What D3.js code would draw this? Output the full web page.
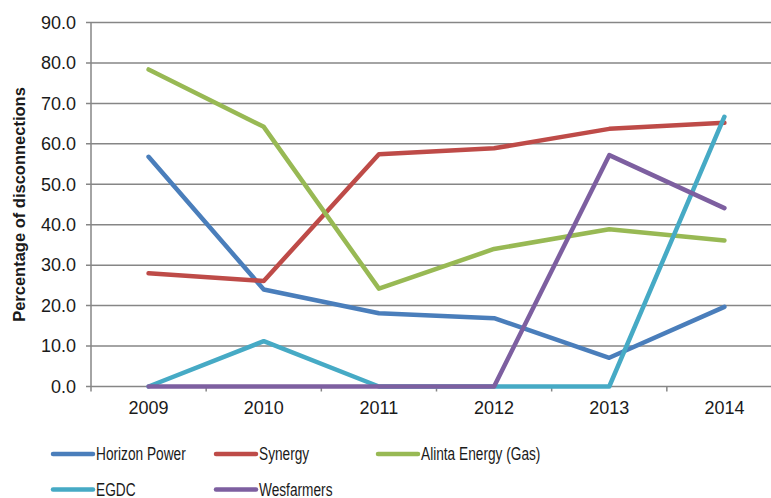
<!DOCTYPE html>
<html>
<head>
<meta charset="utf-8">
<script src="https://cdn.jsdelivr.net/npm/d3@7"></script>
<style>
  body { margin: 0; background: #fff; }
  svg { display: block; font-family: "Liberation Sans", Arial, sans-serif; }
</style>
</head>
<body>
<svg width="771" height="498"></svg>
<script>
// chart data
const years = ['2009', '2010', '2011', '2012', '2013', '2014'];
const seriesNames = ['Horizon Power', 'Synergy', 'Alinta Energy (Gas)', 'EGDC', 'Wesfarmers'];
const horizonPower = [56.8, 24.0, 18.1, 16.9, 7.1, 19.7];
const synergy = [28.0, 26.1, 57.4, 58.9, 63.7, 65.2];
const alintaGas = [78.4, 64.2, 24.2, 34.0, 38.9, 36.1];
const egdc = [0, 11.2, 0, 0, 0, 66.7];
const wesfarmers = [0, 0, 0, 0, 57.2, 44.1];
const yTicks = [0, 10, 20, 30, 40, 50, 60, 70, 80, 90];
const colors = ['#4a7ebb', '#be4b48', '#98b954', '#46aac5', '#7d5fa0'];

const allSeries = [horizonPower, synergy, alintaGas, egdc, wesfarmers];

let svg = d3.select('svg');
let plotLeft = 91, plotRight = 782, plotTop = 22.5, plotBottom = 386.5;

let x = d3.scaleBand().domain(years).range([plotLeft, plotRight]);
let y = d3.scaleLinear().domain([0, 90]).range([plotBottom, plotTop]);

// horizontal gridlines
svg.append('g')
  .selectAll('line')
  .data(yTicks)
  .enter().append('line')
  .attr('x1', plotLeft - 5)
  .attr('x2', plotRight)
  .attr('y1', d => y(d))
  .attr('y2', d => y(d))
  .attr('stroke', '#868686')
  .attr('stroke-width', 1.5);

// y axis labels
svg.append('g')
  .selectAll('text')
  .data(yTicks)
  .enter().append('text')
  .attr('x', 76)
  .attr('y', d => y(d))
  .attr('dy', '0.35em')
  .attr('text-anchor', 'end')
  .attr('font-size', 18)
  .attr('fill', '#1a1a1a')
  .text(d => d3.format('.1f')(d));

// y axis line
svg.append('line')
  .attr('x1', plotLeft).attr('x2', plotLeft)
  .attr('y1', plotTop).attr('y2', plotBottom + 5)
  .attr('stroke', '#868686')
  .attr('stroke-width', 1.5);

// x category ticks between bands
svg.append('g')
  .selectAll('line')
  .data(years.slice(1))
  .enter().append('line')
  .attr('x1', d => x(d))
  .attr('x2', d => x(d))
  .attr('y1', plotBottom)
  .attr('y2', plotBottom + 5)
  .attr('stroke', '#868686')
  .attr('stroke-width', 1.5);

svg.append('g')
  .selectAll('text')
  .data(years)
  .enter().append('text')
  .attr('x', d => x(d) + x.bandwidth() / 2)
  .attr('y', 414)
  .attr('text-anchor', 'middle')
  .attr('font-size', 18)
  .attr('fill', '#1a1a1a')
  .text(d => d);

// y axis title
svg.append('text')
  .attr('transform', `translate(25,${(plotTop + plotBottom) / 2}) rotate(-90)`)
  .attr('text-anchor', 'middle')
  .attr('font-size', 16.5)
  .attr('font-weight', 'bold')
  .attr('fill', '#1a1a1a')
  .text('Percentage of disconnections');

// lines
let line = d3.line()
  .x((d, i) => x(years[i]) + x.bandwidth() / 2)
  .y(d => y(d));

svg.append('g')
  .selectAll('path')
  .data(allSeries)
  .enter().append('path')
  .attr('d', line)
  .attr('fill', 'none')
  .attr('stroke', (d, i) => colors[i])
  .attr('stroke-width', 4.5)
  .attr('stroke-linejoin', 'round')
  .attr('stroke-linecap', 'round');

// legend
let legendPos = [[53, 454], [216, 454], [378, 454], [53, 489.5], [216, 489.5]];
let legend = svg.append('g')
  .selectAll('g')
  .data(seriesNames)
  .enter().append('g')
  .attr('transform', (d, i) => `translate(${legendPos[i][0]},${legendPos[i][1]})`);

legend.append('line')
  .attr('x1', 0).attr('x2', 40)
  .attr('stroke', (d, i) => colors[i])
  .attr('stroke-width', 4.5)
  .attr('stroke-linecap', 'round');

// legend text in the reference is tall and narrow
legend.append('text')
  .attr('transform', 'translate(43,0) scale(0.74,1)')
  .attr('dy', '0.35em')
  .attr('font-size', 18.5)
  .attr('fill', '#1a1a1a')
  .text(d => d);
</script>
</body>
</html>
